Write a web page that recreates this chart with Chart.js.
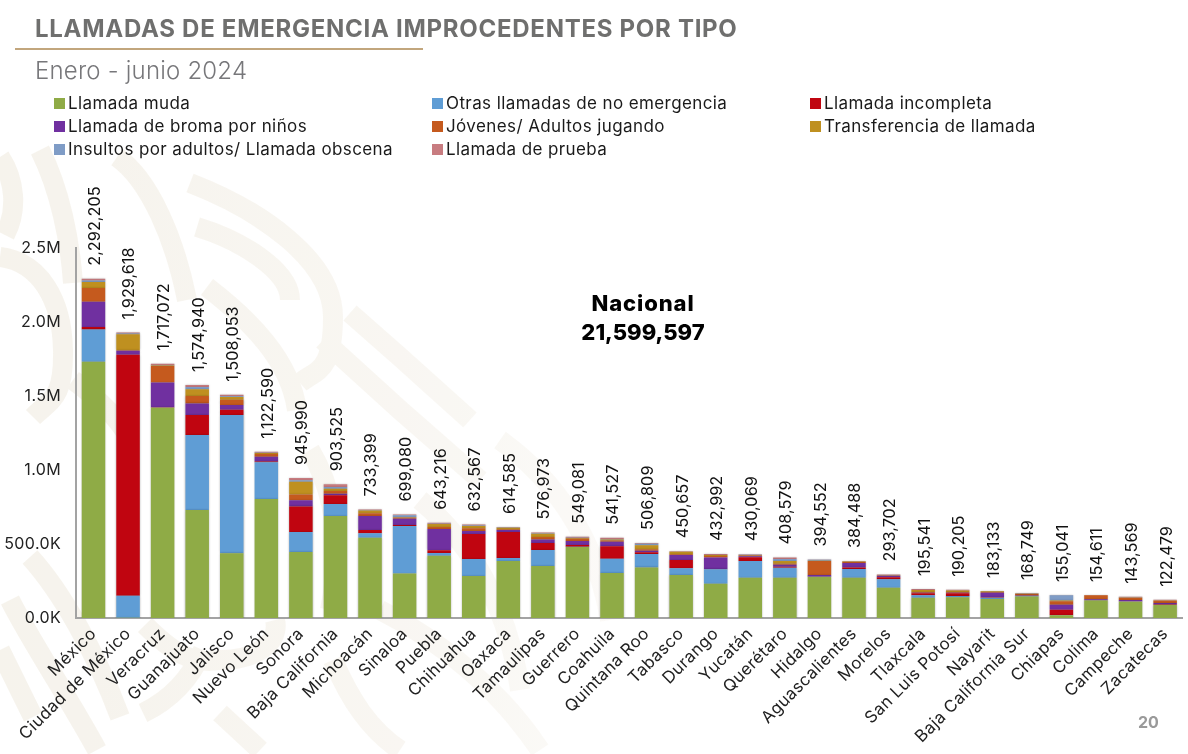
<!DOCTYPE html>
<html lang="es">
<head>
<meta charset="utf-8">
<title>Llamadas de emergencia improcedentes por tipo</title>
<script src="https://cdn.jsdelivr.net/npm/chart.js@4"></script>
<style>
html,body{margin:0;padding:0;background:#fff;width:1188px;height:754px;overflow:hidden;font-family:Inter,sans-serif}
#wrap{position:relative;width:1188px;height:754px}
#bg{position:absolute;left:0;top:0}
canvas{position:absolute;left:0;top:0}
.t{position:absolute;white-space:nowrap}
#title{left:35px;top:14px;font-size:24px;letter-spacing:.72px;font-weight:700;color:#6f6f6e;line-height:30px}
#rule{position:absolute;left:15px;top:47.5px;width:408px;height:2px;background:#c2a67d}
#sub{left:35px;top:56px;font-size:24px;letter-spacing:.2px;font-weight:300;color:#77777a;line-height:30px}
#nat{left:543px;width:200px;top:289px;text-align:center;font-size:22px;font-weight:800;line-height:29px;color:#000}
#nat span{letter-spacing:.9px}
#page{left:1138px;top:712px;font-size:16px;font-weight:700;color:#9a9a9a;line-height:20px}
.lg{position:absolute;font-size:17px;letter-spacing:.4px;line-height:20px;color:#1a1a1a;white-space:nowrap}
.lg i{position:absolute;left:-14px;top:4.5px;width:11px;height:11px}
</style>
</head>
<body>
<div id="wrap">
<svg id="bg" width="1188" height="754" fill="none" stroke="url(#fade)" stroke-width="20" stroke-linecap="butt" opacity="0.75">
<defs><linearGradient id="fade" gradientUnits="userSpaceOnUse" x1="0" y1="0" x2="800" y2="0">
<stop offset="0" stop-color="#f3efe6"/><stop offset=".5" stop-color="#f7f4ee"/><stop offset="1" stop-color="#fefdfc"/></linearGradient></defs>
<path d="M0 157C15 180 18 210 5 235"/>
<path d="M0 257C40 262 62 300 63 350S50 400 33 417"/>
<path d="M40 150C60 190 70 240 73 283"/>
<path d="M117 157C150 180 175 240 187 300"/>
<path d="M190 183C260 210 333 260 333 317S315 370 300 383"/>
<path d="M197 227C240 240 290 270 290 300"/>
<path d="M207 287C250 320 290 360 297 410"/>
<path d="M350 313L400 357L470 420"/>
<path d="M323 340L400 410L480 480"/>
<path d="M73 380C100 400 120 420 130 440"/>
<path d="M30 557C60 590 95 650 120 717"/>
<path d="M10 600C30 640 70 700 97 750"/>
<path d="M0 650L33 717"/>
<path d="M143 713C170 700 190 680 203 650"/>
<path d="M145 625C170 650 190 665 220 660C260 660 280 640 275 620"/>
<path d="M220 713L260 750"/>
<path d="M333 660C350 700 370 730 400 750"/>
<path d="M310 450C340 500 340 560 330 610"/>
<path d="M380 610C440 640 500 690 540 750"/>
<path d="M420 500C480 550 510 620 520 690"/>
<path d="M500 440C570 490 600 560 610 620"/>
</svg>
<canvas id="c" width="1188" height="754"></canvas>
<div class="t" id="title">LLAMADAS DE EMERGENCIA IMPROCEDENTES POR TIPO</div>
<div id="rule"></div>
<div class="t" id="sub">Enero - junio 2024</div>
<div id="legend"></div>
<div class="t" id="nat"><span>Nacional</span><br>21,599,597</div>
<div class="t" id="page">20</div>
</div>
<script>
const categories = ["México","Ciudad de México","Veracruz","Guanajuato","Jalisco","Nuevo León","Sonora","Baja California","Michoacán","Sinaloa","Puebla","Chihuahua","Oaxaca","Tamaulipas","Guerrero","Coahuila","Quintana Roo","Tabasco","Durango","Yucatán","Querétaro","Hidalgo","Aguascalientes","Morelos","Tlaxcala","San Luis Potosí","Nayarit","Baja California Sur","Chiapas","Colima","Campeche","Zacatecas"];
const totalLabels = ["2,292,205","1,929,618","1,717,072","1,574,940","1,508,053","1,122,590","945,990","903,525","733,399","699,080","643,216","632,567","614,585","576,973","549,081","541,527","506,809","450,657","432,992","430,069","408,579","394,552","384,488","293,702","195,541","190,205","183,133","168,749","155,041","154,611","143,569","122,479"];
const llamadaMuda = [1732000,2000,1421000,730000,437000,804000,446000,689000,543000,300000,421000,284000,385000,351000,480000,304000,342000,291000,232000,272000,272000,277000,272000,205000,137000,140000,128000,146000,18000,119000,110000,88000];
const otrasLlamadas = [218000,149000,1000,506000,934000,248000,135000,81000,29000,322000,18000,115000,20000,108000,1000,97000,90000,45000,97000,113000,68000,2000,59000,56000,16000,9000,9000,5000,2000,1000,1500,1000];
const llamadaIncompleta = [16000,1628000,3000,135000,36000,6000,173000,59000,23000,6000,18000,168000,176000,48000,12000,83000,12000,56000,2000,25000,7000,2000,11000,14000,14000,18000,3000,2000,36000,1000,1000,6000];
const bromaNinos = [171000,27000,166000,79000,32000,32000,41000,11000,94000,43000,144000,21000,13000,24000,27000,32000,11000,34000,77000,7000,13000,9000,30000,11000,4000,4000,31000,2000,34000,5000,9000,7000];
const jovenesAdultos = [92000,3000,112000,50000,36000,18000,40000,18000,18000,7000,14000,18000,5000,16000,16000,7000,9000,5000,11000,6000,7000,95000,6000,2000,5000,5000,5000,7000,23000,27000,15000,15000];
const transferencia = [41000,108000,3000,45000,18000,7000,86000,16000,20000,2000,20000,15000,11000,23000,5000,7000,27000,16000,6000,3000,18000,1000,3000,2000,13000,9000,4000,2000,6000,1000,2000,1000];
const insultos = [11000,5000,2000,16000,5000,1000,9000,11000,2000,14000,2000,4000,1000,2000,2000,3000,11000,1000,1000,1000,14000,8000,1000,1000,1000,1000,1000,1000,34000,300,1000,500];
const llamadaPrueba = [11205,7618,9072,13940,10053,6590,15990,18525,4399,5080,6216,7567,3585,4973,6081,8527,4809,2657,6992,3069,9579,552,2488,2702,5541,4205,2133,3749,2041,311,4069,3979];
const yTickLabels = ["0.0K","500.0K","1.0M","1.5M","2.0M","2.5M"];
const seriesNames = ["Llamada muda","Otras llamadas de no emergencia","Llamada incompleta","Llamada de broma por niños","Jóvenes/ Adultos jugando","Transferencia de llamada","Insultos por adultos/ Llamada obscena","Llamada de prueba"];
const seriesValues = [llamadaMuda,otrasLlamadas,llamadaIncompleta,bromaNinos,jovenesAdultos,transferencia,insultos,llamadaPrueba];
const seriesColors = ["#8fab46","#5f9dd5","#c00510","#7030a0","#c55a1e","#bf9020","#7f9cc6","#c87c80"];

const totalsPlugin = {
  id:"totals",
  beforeDraw(chart){ chart.ctx.letterSpacing = "0.4px"; },
  beforeDatasetDraw(chart){
    chart.ctx.shadowColor = "rgba(0,0,0,0.28)";
    chart.ctx.shadowBlur = 2;
  },
  afterDatasetDraw(chart){
    chart.ctx.shadowColor = "transparent";
    chart.ctx.shadowBlur = 0;
  },
  afterDatasetsDraw(chart){
    const ctx = chart.ctx;
    const meta = chart.getDatasetMeta(chart.data.datasets.length-1);
    ctx.save();
    ctx.letterSpacing = "0px";
    ctx.font = "16.3px Inter";
    ctx.fillStyle = "#111";
    ctx.textAlign = "left";
    ctx.textBaseline = "middle";
    meta.data.forEach((bar,i)=>{
      ctx.save();
      ctx.translate(bar.x+1.5, bar.y-13);
      ctx.rotate(-Math.PI/2);
      ctx.fillText(totalLabels[i],0,0);
      ctx.restore();
    });
    ctx.restore();
  }
};

const chart = new Chart(document.getElementById("c"),{
  type:"bar",
  data:{
    labels:categories,
    datasets:seriesNames.map((n,i)=>({label:n,data:seriesValues[i],backgroundColor:seriesColors[i],borderWidth:0,categoryPercentage:1,barPercentage:0.68}))
  },
  options:{
    responsive:false,
    animation:false,
    devicePixelRatio:1,
    layout:{padding:{top:248,right:5.6,bottom:0,left:0}},
    plugins:{legend:{display:false},title:{display:false},tooltip:{enabled:false}},
    scales:{
      x:{
        stacked:true,
        grid:{display:false,drawTicks:false},
        border:{display:true,color:"#a3a3a3",width:2},
        ticks:{autoSkip:false,maxRotation:45,minRotation:45,padding:6,color:"#222",font:{family:"Inter",size:16.8}},
        afterFit(s){s.height=136;}
      },
      y:{
        stacked:true,
        min:0,max:2500000,
        grid:{display:false,drawTicks:false},
        border:{display:true,color:"#a3a3a3",width:2},
        ticks:{stepSize:500000,padding:15,color:"#222",font:{family:"Inter",size:16},callback(v){return yTickLabels[Math.round(v/500000)];}},
        afterFit(s){s.width=76.2;}
      }
    }
  },
  plugins:[totalsPlugin]
});

/* legend built from the chart's own datasets */
const lgCols=[68,446,824], lgRows=[93,116,139];
const lg=document.getElementById("legend");
chart.data.datasets.forEach((d,i)=>{
  const e=document.createElement("div");
  e.className="lg";
  e.style.left=lgCols[i%3]+"px";
  e.style.top=lgRows[Math.floor(i/3)]+"px";
  e.innerHTML='<i style="background:'+d.backgroundColor+'"></i>'+d.label;
  lg.appendChild(e);
});
</script>
</body>
</html>
